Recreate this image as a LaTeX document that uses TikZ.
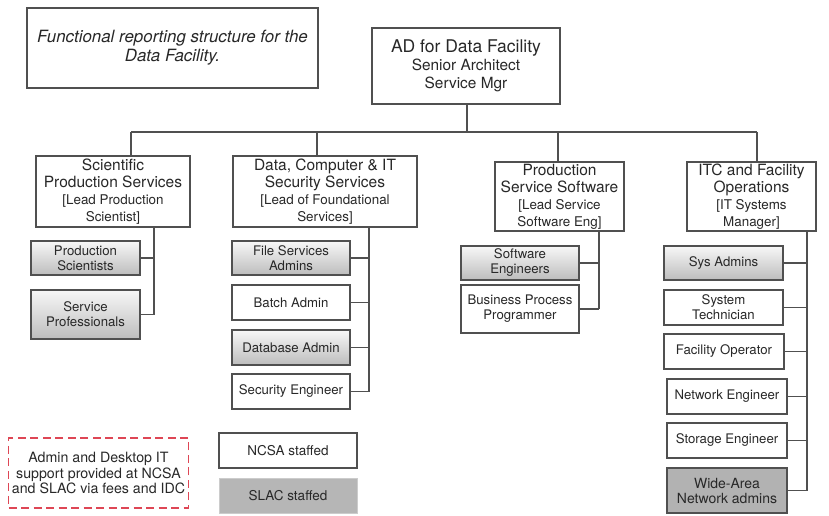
\documentclass[tikz,border=0pt]{standalone}
\usepackage{fontspec}
\setmainfont{TeX Gyre Heros}
\usetikzlibrary{calc}
\definecolor{edge}{RGB}{80,80,80}
\definecolor{txt}{RGB}{40,40,40}
\definecolor{darkfill}{RGB}{178,178,178}
\definecolor{slacfill}{RGB}{182,182,182}
\definecolor{notered}{RGB}{222,70,85}
\newcommand\fsz[2]{\fontsize{#1}{#2}\selectfont}
\tikzset{
  box/.style={draw=edge, line width=1.3pt, fill=white, inner sep=1pt, align=center, text=txt},
  headbox/.style={box, font=\fsz{15.5}{17}},
  kidbox/.style={box, font=\fsz{13.2}{15}},
  gradbox/.style={kidbox, top color=black!3, bottom color=black!26},
  darkbox/.style={kidbox, fill=darkfill},
  conn/.style={draw=edge, line width=1.3pt},
}
\newcommand\sub{\fsz{13.4}{16}}
\begin{document}
\begin{tikzpicture}[x=1pt,y=-1pt]
\useasboundingbox (0,0) rectangle (829,516);

% caption and top
\node[box, minimum width=291, minimum height=80, font=\fsz{16.9}{19}\itshape] (cap) at (172.5,48)
  {Functional reporting structure for the\\Data Facility.};
\node[box, minimum width=188, minimum height=76, font=\fsz{15.4}{18}] (ad) at (466,66)
  {\fsz{17.5}{18}AD for Data Facility\\Senior Architect\\Service Mgr};

% second level
\node[headbox, minimum width=154, minimum height=71] (b1) at (113,191.5)
  {Scientific\\Production Services\\\sub [Lead Production\\\sub Scientist]};
\node[headbox, minimum width=184, minimum height=71] (b2) at (325,191.5)
  {Data, Computer \& IT\\Security Services\\\sub [Lead of Foundational\\\sub Services]};
\node[headbox, minimum width=129, minimum height=69] (b3) at (559.5,196.5)
  {Production\\Service Software\\\sub [Lead Service\\\sub Software Eng]};
\node[headbox, minimum width=129, minimum height=69] (b4) at (751.5,196.5)
  {ITC and Facility\\Operations\\\sub [IT Systems\\\sub Manager]};

% bus
\coordinate (bus) at (467,132);
\coordinate (d1) at (131,132);
\coordinate (d2) at (317,132);
\coordinate (d3) at (558,132);
\coordinate (d4) at (757,132);
\draw[conn] (ad.south -| bus) -- (bus);
\draw[conn] (d1) -- (d4);
\draw[conn] (d1) -- (d1 |- b1.north);
\draw[conn] (d2) -- (d2 |- b2.north);
\draw[conn] (d3) -- (d3 |- b3.north);
\draw[conn] (d4) -- (d4 |- b4.north);

% column 1
\node[gradbox, minimum width=109, minimum height=34] (p1) at (85.5,258) {Production\\Scientists};
\node[gradbox, minimum width=109, minimum height=49] (p2) at (85.5,314.5) {Service\\Professionals};
\coordinate (v1) at (154,227);
\draw[conn] (v1 |- b1.south) -- (v1 |- p2.east);
\draw[conn] (p1.east) -- (p1.east -| v1);
\draw[conn] (p2.east) -- (p2.east -| v1);

% column 2
\node[gradbox, minimum width=118, minimum height=34] (c1) at (291,258) {File Services\\Admins};
\node[kidbox, minimum width=118, minimum height=35] (c2) at (291,302.5) {Batch Admin};
\node[gradbox, minimum width=118, minimum height=35] (c3) at (291,347.5) {Database Admin};
\node[kidbox, minimum width=118, minimum height=35] (c4) at (291,391.5) {Security Engineer};
\coordinate (v2) at (369,227);
\draw[conn] (v2 |- b2.south) -- (v2 |- c4.east);
\foreach \n in {c1,c2,c3,c4} \draw[conn] (\n.east) -- (\n.east -| v2);

% column 3
\node[gradbox, minimum width=118, minimum height=34] (s1) at (520,263) {Software\\Engineers};
\node[kidbox, minimum width=118, minimum height=48] (s2) at (520,309) {Business Process\\Programmer};
\coordinate (v3) at (599,231);
\draw[conn] (v3 |- b3.south) -- (v3 |- s2.east);
\foreach \n in {s1,s2} \draw[conn] (\n.east) -- (\n.east -| v3);

% column 4
\node[gradbox, minimum width=119, minimum height=34] (i1) at (723.5,263) {Sys Admins};
\node[kidbox, minimum width=119, minimum height=35] (i2) at (723.5,307.5) {System\\Technician};
\node[kidbox, minimum width=120, minimum height=35] (i3) at (724,351.5) {Facility Operator};
\node[kidbox, minimum width=120, minimum height=35] (i4) at (727,396.5) {Network Engineer};
\node[kidbox, minimum width=120, minimum height=35] (i5) at (727,440.5) {Storage Engineer};
\node[darkbox, minimum width=120, minimum height=45] (i6) at (727,490.5) {\fsz{14}{16}Wide-Area\\\fsz{14}{16}Network admins};
\coordinate (v4) at (807,231);
\draw[conn] (v4 |- b4.south) -- (v4 |- i6.east);
\foreach \n in {i1,i2,i3,i4,i5,i6} \draw[conn] (\n.east) -- (\n.east -| v4);

% legend
\node[draw=notered, line width=1.6pt, dash pattern=on 8pt off 4.5pt, align=center, text=txt,
      font=\fsz{14.2}{15.5}, minimum width=173, minimum height=70] (note) at (98.5,473)
  {Admin and Desktop IT\\support provided at NCSA\\and SLAC via fees and IDC};
\node[kidbox, font=\fsz{13.5}{15}, minimum width=138, minimum height=35] (ncsa) at (288,450.5) {NCSA staffed};
\node[draw=black!20, line width=1pt, fill=slacfill, text=txt, font=\fsz{13.5}{15}, minimum width=138, minimum height=35] (slac) at (288,495.5) {SLAC staffed};
\end{tikzpicture}
\end{document}
